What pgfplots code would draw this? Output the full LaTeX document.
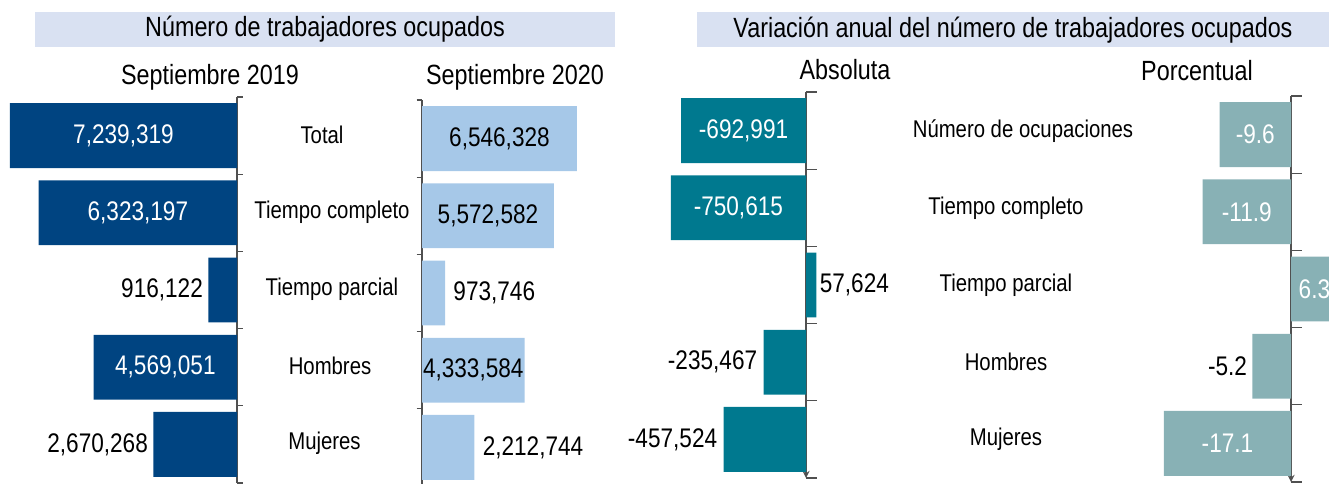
\documentclass[border=0pt]{standalone}
\usepackage{pgfplots}
\pgfplotsset{compat=1.18}
\usepackage{pgfplotstable}
\usepackage{fontspec}
\setmainfont{Liberation Sans}[FakeStretch=0.84]
\definecolor{cA}{HTML}{004481}
\definecolor{cB}{HTML}{A6C8E8}
\definecolor{cC}{HTML}{00798F}
\definecolor{cD}{HTML}{88B1B5}
\definecolor{hdr}{HTML}{D9E1F2}
\definecolor{axc}{HTML}{505050}
\newcommand{\fTitle}{\fontsize{13.9}{16}\selectfont}
\newcommand{\fVal}{\fontsize{13.45}{15}\selectfont}
\newcommand{\fCat}{\fontsize{12.1}{14}\selectfont}

% pos: 0 = label inside bar, 1 = outside right, -1 = outside left
\pgfplotstableread{
i v lab pos
0 7239319 7,239,319 0
1 6323197 6,323,197 0
2 916122 916,122 -1
3 4569051 4,569,051 0
4 2670268 2,670,268 -1
}\tA
\pgfplotstableread{
i v lab pos
0 6546328 6,546,328 0
1 5572582 5,572,582 0
2 973746 973,746 1
3 4333584 4,333,584 0
4 2212744 2,212,744 1
}\tB
\pgfplotstableread{
i v lab pos
0 -692991 -692,991 0
1 -750615 -750,615 0
2 57624 57,624 1
3 -235467 -235,467 -1
4 -457524 -457,524 -1
}\tC
\pgfplotstableread{
i v lab pos
0 -9.6 -9.6 0
1 -11.9 -11.9 0
2 6.3 6.3 0
3 -5.2 -5.2 -1
4 -17.1 -17.1 0
}\tD

\pgfplotsset{
  panel/.style={
    scale only axis, height=193pt, ymin=-0.5, ymax=4.5, y dir=reverse,
    axis x line=none, xtick=\empty,
    axis line style={-, draw=axc, line width=0.6pt},
    every inner y axis line/.append style={-},
    every outer y axis line/.append style={-},
    ytick={-0.5,0.5,1.5,2.5,3.5,4.5}, yticklabels={,,,,,},
    tick align=outside, major tick length=2.75pt,
    tick style={draw=axc, line width=0.6pt},
  },
  midpanel/.style={panel, axis y line=middle, tick align=center,
    major tick length=5.5pt, ytick style={xshift=2.75pt}},
  bars/.style={xbar, bar width=0.84, bar shift=0pt, draw=none, fill=#1},
  lbl/.style={draw=none, mark=none, nodes near coords, point meta=explicit symbolic,
    nodes near coords style={font=\fVal, inner sep=0pt}},
  lin/.style={lbl, nodes near coords style={anchor=center, text=#1},
    restrict expr to domain={\thisrow{pos}}{-0.5:0.5}},
  lright/.style={lbl, nodes near coords style={anchor=west, xshift=#1},
    restrict expr to domain={\thisrow{pos}}{0.5:1.5}},
  lleft/.style={lbl, nodes near coords style={anchor=east, xshift=#1},
    restrict expr to domain={\thisrow{pos}}{-1.5:-0.5}},
}

\begin{document}
\begin{tikzpicture}
\useasboundingbox (0pt,0pt) rectangle (664.5pt,-241.5pt);
% header bands
\fill[hdr] (17.5pt,-6pt) rectangle (307.5pt,-23.25pt);
\node[font=\fTitle] at (162.5pt,-14.75pt) {Número de trabajadores ocupados};
\fill[hdr] (348.5pt,-6pt) rectangle (664.5pt,-23.25pt);
\node[font=\fTitle] at (506.5pt,-15pt) {Variación anual del número de trabajadores ocupados};
\node[font=\fTitle] at (105pt,-38.5pt) {Septiembre 2019};
\node[font=\fTitle] at (257.5pt,-38.5pt) {Septiembre 2020};
\node[font=\fTitle] at (422.5pt,-35pt) {Absoluta};
\node[font=\fTitle] at (598.5pt,-35.5pt) {Porcentual};

% Panel 1: Septiembre 2019
\begin{axis}[panel, at={(0pt,-48.5pt)}, anchor=north west, width=118.5pt,
  xmin=-7558167, xmax=0, axis y line*=right,
  extra y ticks={0,1,2,3,4},
  extra y tick labels={Total\hspace*{10pt},Tiempo completo,Tiempo parcial,Hombres\hspace*{2pt},Mujeres\hspace*{7.5pt}},
  extra y tick style={major tick length=0pt,
    yticklabel style={anchor=center, xshift=47.5pt, yshift=0.5pt, font=\fCat}}]
\addplot[bars=cA] table[x expr=-\thisrow{v}, y=i] {\tA};
\addplot[lin=white] table[x expr=-\thisrow{v}/2, y=i, meta=lab] {\tA};
\addplot[lleft=-2.5pt] table[x expr=-\thisrow{v}, y=i, meta=lab] {\tA};
\end{axis}

% Panel 2: Septiembre 2020
\begin{axis}[panel, at={(211pt,-50pt)}, anchor=north west, width=94pt,
  xmin=0, xmax=7943000, axis y line*=left]
\addplot[bars=cB] table[x=v, y=i] {\tB};
\addplot[lin=black] table[x expr=\thisrow{v}/2, y=i, meta=lab] {\tB};
\addplot[lright=4pt] table[x=v, y=i, meta=lab] {\tB};
\end{axis}

% Panel 3: Absoluta
\begin{axis}[midpanel, at={(330pt,-46pt)}, anchor=north west, width=115pt,
  xmin=-810300, xmax=466200,
  extra y ticks={0,1,2,3,4},
  extra y tick labels={\hspace*{17pt}Número de ocupaciones,Tiempo completo,Tiempo parcial,Hombres,Mujeres},
  extra y tick style={major tick length=0pt,
    yticklabel style={anchor=center, xshift=100pt, yshift=0pt, font=\fCat}}]
\addplot[bars=cC] table[x=v, y=i] {\tC};
\addplot[lin=white] table[x expr=\thisrow{v}/2, y=i, meta=lab] {\tC};
\addplot[lright=1.5pt] table[x=v, y=i, meta=lab] {\tC};
\addplot[lleft=-3pt] table[x=v, y=i, meta=lab] {\tC};
\end{axis}

% Panel 4: Porcentual
\begin{axis}[midpanel, at={(570pt,-48pt)}, anchor=north west, width=94.5pt,
  xmin=-20.323, xmax=5.114]
\addplot[bars=cD] table[x=v, y=i] {\tD};
\addplot[lin=white] table[x expr=\thisrow{v}/2, y=i, meta=lab] {\tD};
\addplot[lleft=-2.5pt] table[x=v, y=i, meta=lab] {\tD};
\end{axis}
\end{tikzpicture}
\end{document}
